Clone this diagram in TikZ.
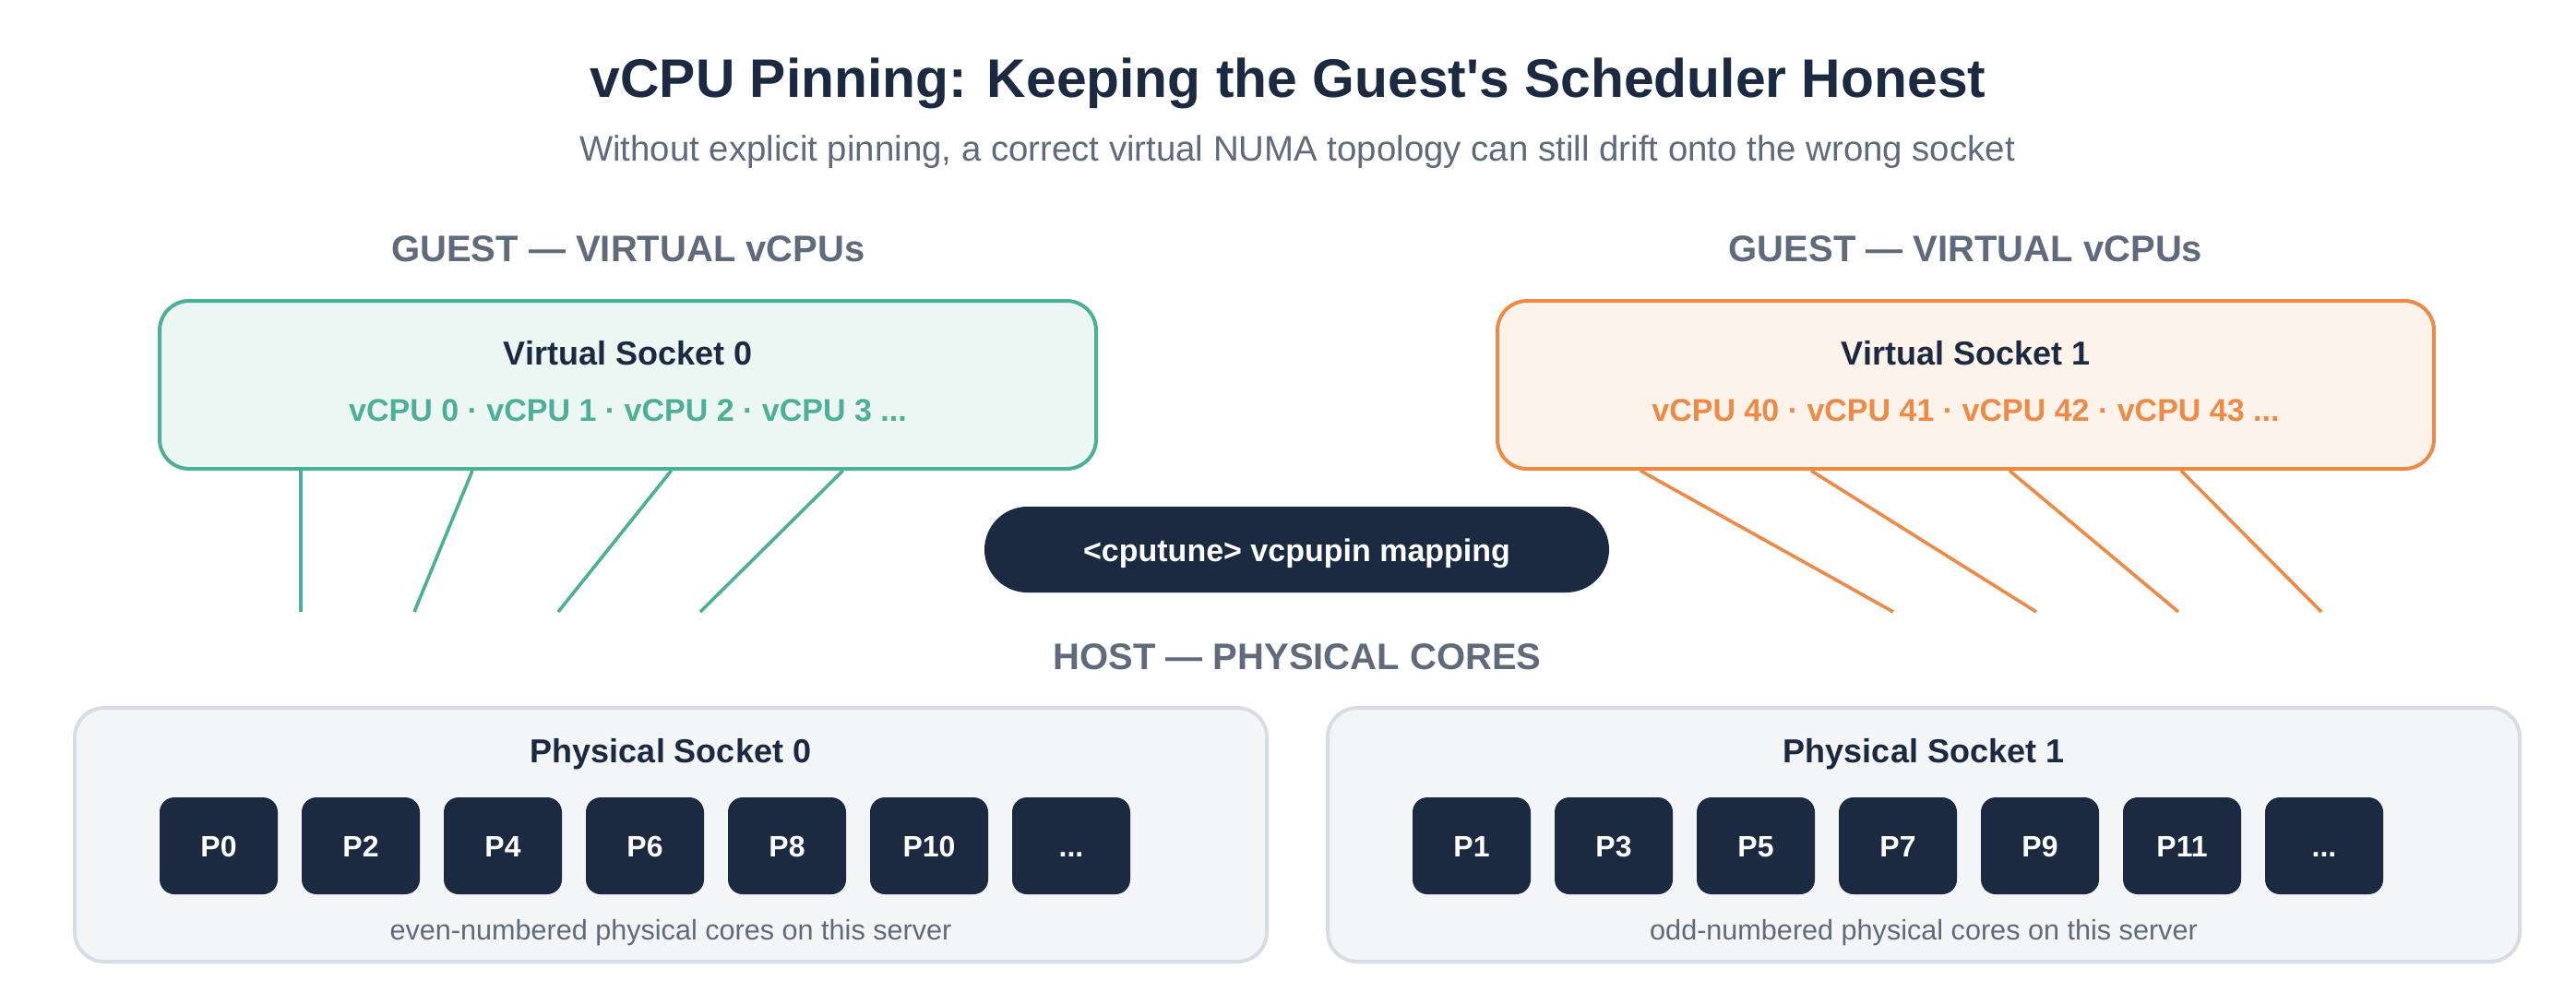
\documentclass[tikz,border=0pt]{standalone}
\usepackage{fontspec}
\setmainfont{Liberation Sans}
\usetikzlibrary{calc}
\definecolor{navy}{HTML}{1B2A41}
\definecolor{slate}{HTML}{5F6B7A}
\definecolor{tealc}{HTML}{4DAF97}
\definecolor{tealfill}{HTML}{ECF7F4}
\definecolor{orangec}{HTML}{EC8A48}
\definecolor{orangefill}{HTML}{FDF3EA}
\definecolor{grayfill}{HTML}{F3F5F7}
\definecolor{grayline}{HTML}{D7DDE4}
\newcommand{\mytdots}{...}
\begin{document}
\begin{tikzpicture}[x=1pt,y=-1pt,
  txt/.style={anchor=base, inner sep=0pt},
  titlefont/.style={txt, font=\fontsize{29.4}{34}\selectfont\bfseries, text=navy},
  subfont/.style={txt, font=\fontsize{19.2}{23}\selectfont, text=slate},
  headfont/.style={txt, font=\fontsize{20}{24}\selectfont\bfseries, text=slate},
  boxtitle/.style={txt, font=\fontsize{18}{22}\selectfont\bfseries, text=navy},
  vcpufont/.style={txt, font=\fontsize{17}{21}\selectfont\bfseries},
  capfont/.style={txt, font=\fontsize{15.3}{18}\selectfont, text=slate},
  vbox/.style={draw, line width=2pt, rounded corners=16pt, minimum width=507.5pt, minimum height=91pt, inner sep=0pt},
  pbox/.style={draw=grayline, fill=grayfill, line width=2pt, rounded corners=16pt, minimum width=646pt, minimum height=137.5pt, inner sep=0pt},
  core/.style={fill=navy, rounded corners=8pt, minimum width=64pt, minimum height=52.5pt, inner sep=0pt},
  corelabel/.style={txt, font=\fontsize{16}{19}\selectfont\bfseries, text=white},
  pill/.style={fill=navy, rounded corners=23.25pt, minimum width=338.5pt, minimum height=46.5pt, inner sep=0pt},
  tline/.style={draw=tealc, line width=1.8pt},
  oline/.style={draw=orangec, line width=1.8pt}
]
\useasboundingbox[fill=white] (0,0) rectangle (1396,544);

% title
\node[titlefont] (title) at (698,52.5) {vCPU Pinning: Keeping the Guest\textquotesingle s Scheduler Honest};
\node[subfont] (subtitle) at (703,87.2) {Without explicit pinning, a correct virtual NUMA topology can still drift onto the wrong socket};

% guest headers
\node[headfont] (g0) at (340.5,141.5) {GUEST — VIRTUAL vCPUs};
\node[headfont] (g1) at (1065.25,141.5) {GUEST — VIRTUAL vCPUs};

% virtual sockets
\node[vbox, draw=tealc, fill=tealfill] (vs0) at (340.25,208.5) {};
\node[vbox, draw=orangec, fill=orangefill] (vs1) at (1065.25,208.5) {};
\node[boxtitle] (vs0t) at (340.25,197.5) {Virtual Socket 0};
\node[boxtitle] (vs1t) at (1065.25,197.5) {Virtual Socket 1};
\node[vcpufont, text=tealc] (vs0c) at (340.25,228) {vCPU 0 · vCPU 1 · vCPU 2 · vCPU 3 ...};
\node[vcpufont, text=orangec] (vs1c) at (1065.25,228) {vCPU 40 · vCPU 41 · vCPU 42 · vCPU 43 ...};

% line ends
\coordinate (a0) at (163,331.5);
\coordinate (a1) at (224.5,331.5);
\coordinate (a2) at (302.5,331.5);
\coordinate (a3) at (379.5,331.5);
\coordinate (b0) at (1026,331.5);
\coordinate (b1) at (1103.5,331.5);
\coordinate (b2) at (1180.5,331.5);
\coordinate (b3) at (1258,331.5);

\draw[tline] ([xshift=77.5pt]vs0.south west) -- (a0);
\draw[tline] ([xshift=170.5pt]vs0.south west) -- (a1);
\draw[tline] ([xshift=278.25pt]vs0.south west) -- (a2);
\draw[tline] ([xshift=371.25pt]vs0.south west) -- (a3);
\draw[oline] ([xshift=78.5pt]vs1.south west) -- (b0);
\draw[oline] ([xshift=171pt]vs1.south west) -- (b1);
\draw[oline] ([xshift=278.5pt]vs1.south west) -- (b2);
\draw[oline] ([xshift=371.5pt]vs1.south west) -- (b3);

% pill
\node[pill] (pill) at (702.75,297.75) {};
\node[txt, font=\fontsize{17}{21}\selectfont\bfseries, text=white] (pillt) at (702.75,304) {<cputune> vcpupin mapping};

% host header
\node[headfont] (host) at (703,362.5) {HOST — PHYSICAL CORES};

% physical sockets
\node[pbox] (ps0) at (363.5,452.25) {};
\node[pbox] (ps1) at (1042.5,452.25) {};
\node[boxtitle] (ps0t) at (363.5,413) {Physical Socket 0};
\node[boxtitle] (ps1t) at (1042.5,413) {Physical Socket 1};

\foreach \i/\lab in {0/P0,1/P2,2/P4,3/P6,4/P8,5/P10,6/\mytdots} {
  \node[core] (c\i) at ({118.5+77*\i},458.25) {};
  \node[corelabel] (cl\i) at ({118.5+77*\i},464) {\lab};
}
\foreach \i/\lab in {0/P1,1/P3,2/P5,3/P7,4/P9,5/P11,6/\mytdots} {
  \node[core] (d\i) at ({797.5+77*\i},458.25) {};
  \node[corelabel] (dl\i) at ({797.5+77*\i},464) {\lab};
}

\node[capfont] (cap0) at (363.5,509) {even-numbered physical cores on this server};
\node[capfont] (cap1) at (1042.5,509) {odd-numbered physical cores on this server};
\end{tikzpicture}
\end{document}
